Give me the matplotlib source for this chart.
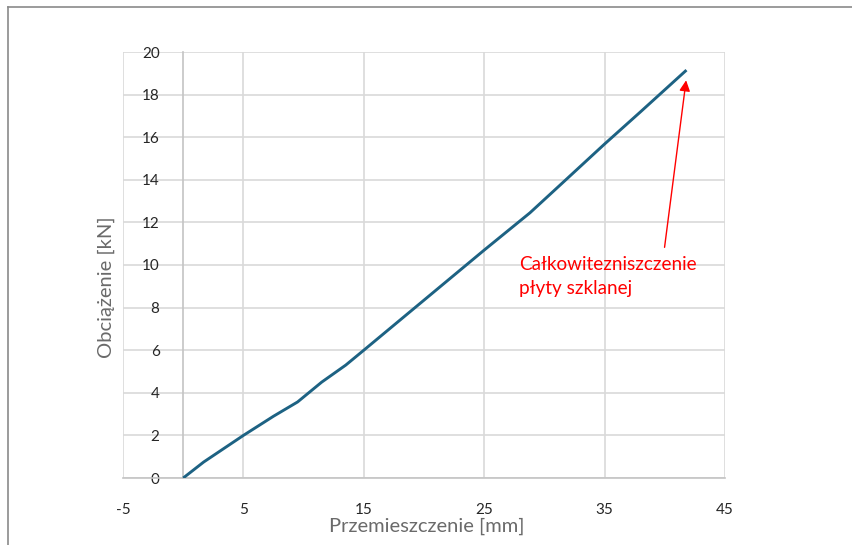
import matplotlib
matplotlib.use("Agg")
import matplotlib.pyplot as plt
from matplotlib.lines import Line2D

plt.rcParams['font.family'] = ['Lato', 'DejaVu Sans']
plt.rcParams['axes.unicode_minus'] = False

przemieszczenie = [0, 1.7, 5, 7.5, 9.5, 11.5, 13.5, 15, 20, 25, 28.8, 31.3, 35, 38, 41.8]
obciazenie = [0, 0.75, 2.0, 2.9, 3.57, 4.5, 5.3, 6.0, 8.35, 10.7, 12.45, 13.75, 15.68, 17.2, 19.15]
x_ticks = [-5, 5, 15, 25, 35, 45]
y_ticks = [0, 2, 4, 6, 8, 10, 12, 14, 16, 18, 20]
opis = "Całkowitezniszczenie\npłyty szklanej"

W, H = 853, 545
fig = plt.figure(figsize=(W / 100, H / 100), dpi=100)
ax = fig.add_axes([123 / W, 1 - 478 / H, 602 / W, 426 / H])

ax.plot(przemieszczenie, obciazenie, color='#1d6283', lw=2.1, solid_capstyle='butt', zorder=3)

ax.set_xlim(-5, 45)
ax.set_ylim(0, 20)
ax.set_xticks(x_ticks)
ax.set_yticks(y_ticks)
ax.grid(True, color='#d9d9d9', lw=1.2)
ax.set_axisbelow(True)

for s in ['top', 'right']:
    ax.spines[s].set_visible(False)
ax.spines['left'].set_position(('data', 0))
ax.spines['left'].set_color('#c4c4c4')
ax.spines['bottom'].set_color('#c4c4c4')
ax.spines['left'].set_linewidth(1.2)
ax.spines['bottom'].set_linewidth(1.2)
ax.tick_params(axis='both', length=0, labelsize=11, labelcolor='#262626')
ax.tick_params(axis='y', pad=17)
ax.tick_params(axis='x', pad=18)

fig.text(106 / W, 1 - 287 / H, "Obciążenie [kN]", rotation=90, ha='center', va='center',
         fontsize=14.5, color='#6a6a6a')
fig.text(427 / W, 1 - 526 / H, "Przemieszczenie [mm]", ha='center', va='center',
         fontsize=14.5, color='#6a6a6a')

ax.annotate("", xy=(41.8, 18.8), xytext=(39.95, 10.7),
            arrowprops=dict(arrowstyle='-|>', color='red', lw=1, mutation_scale=16),
            zorder=4)
ax.text(27.9, 9.48, opis, color='red', fontsize=13.6, ha='left', va='center', linespacing=1.5)

# ramka
fig.add_artist(Line2D([8 / W, 1], [1 - 7 / H, 1 - 7 / H], color='#8a8a8a', lw=1.2))
fig.add_artist(Line2D([8 / W, 8 / W], [0, 1 - 7 / H], color='#8a8a8a', lw=1.2))

fig.savefig("out.png", dpi=100)
